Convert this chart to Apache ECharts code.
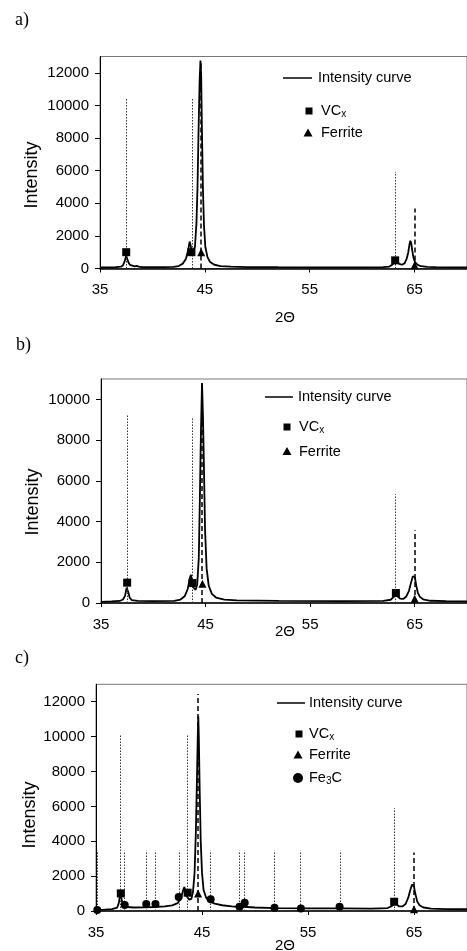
<!DOCTYPE html>
<html><head><meta charset="utf-8">
<script src="https://cdn.jsdelivr.net/npm/echarts@6/dist/echarts.min.js"></script>
<style>html,body{margin:0;padding:0;background:#fff}#c{width:467px;height:951px}</style>
</head><body><div id="c"></div>
<script>
// ---------- DATA ----------
const xTickLabels = [35, 45, 55, 65];
const yTickStep = 2000;

// Panel a
const aCurve = [[35.0,60],[35.5,70],[36.0,70],[36.5,80],[37.0,110],[37.2,200],[37.35,450],[37.5,780],[37.6,700],[37.7,400],[37.85,220],[38.0,150],[38.3,130],[38.5,160],[38.7,120],[39.0,90],[40.0,80],[41.0,80],[42.0,100],[42.5,150],[42.9,300],[43.2,600],[43.4,1100],[43.55,1650],[43.65,1400],[43.75,950],[43.9,850],[44.05,1300],[44.2,2800],[44.3,5000],[44.4,8500],[44.5,11500],[44.58,12750],[44.65,11800],[44.72,8500],[44.82,4800],[44.92,2600],[45.05,1300],[45.25,700],[45.5,400],[45.9,230],[46.5,150],[47.5,110],[49,90],[52,80],[56,70],[60,70],[62,80],[62.6,120],[62.9,250],[63.15,420],[63.35,400],[63.55,280],[63.8,230],[64.05,320],[64.25,600],[64.4,1000],[64.52,1500],[64.6,1700],[64.68,1550],[64.78,1100],[64.9,650],[65.05,380],[65.3,220],[65.6,140],[66.2,100],[67,80],[68.5,70],[70,70]];
const aVCxLines = [[37.47,10400],[43.75,10400],[63.15,5930]];
const aFerriteLines = [[44.65,12750],[65.0,3680]];
const aVCxMarks = [[37.5,1000],[43.72,1000],[63.15,500]];
const aFerriteMarks = [[44.65,1000],[65.0,200]];

// Panel b
const bCurve = [[35.0,60],[36.0,80],[36.8,100],[37.1,170],[37.3,350],[37.45,750],[37.52,820],[37.6,550],[37.75,250],[37.95,140],[38.5,100],[40,90],[42,100],[42.6,170],[43.0,330],[43.3,700],[43.5,1250],[43.6,1380],[43.7,1100],[43.85,750],[44.05,650],[44.2,900],[44.35,2200],[44.45,5000],[44.55,8200],[44.66,10800],[44.75,9200],[44.85,6500],[44.95,3600],[45.1,1700],[45.3,850],[45.6,450],[46,270],[46.8,170],[48,130],[52,100],[58,90],[62,100],[62.7,160],[63.0,300],[63.2,390],[63.4,300],[63.6,220],[63.9,200],[64.2,320],[64.45,600],[64.65,1000],[64.82,1320],[64.92,1400],[65.02,1250],[65.15,850],[65.3,500],[65.5,300],[65.8,180],[66.5,110],[68,90],[70,80]];
const bVCxLines = [[37.49,9280],[43.76,9110],[63.18,5340]];
const bFerriteLines = [[44.68,10700],[65.03,3570]];
const bVCxMarks = [[37.5,1000],[43.75,980],[63.2,490]];
const bFerriteMarks = [[44.7,950],[65.0,210]];

// Panel c
const cCurve = [[35.0,40],[35.3,60],[35.8,80],[36.5,110],[37.0,200],[37.15,450],[37.28,950],[37.38,800],[37.5,420],[37.7,300],[38.0,230],[38.5,200],[39.5,210],[40.5,230],[41.5,260],[42.2,320],[42.7,450],[43.0,700],[43.2,1150],[43.33,1380],[43.45,1150],[43.6,800],[43.8,650],[44.0,700],[44.15,1100],[44.3,2200],[44.42,4500],[44.52,7500],[44.6,10000],[44.65,11150],[44.7,10000],[44.78,7000],[44.88,4000],[45.0,2200],[45.15,1200],[45.4,750],[45.7,550],[46.2,420],[46.9,330],[47.8,260],[48.6,230],[49.2,230],[50,200],[52,170],[55,150],[58,150],[61,140],[62.5,170],[62.9,280],[63.15,420],[63.35,380],[63.6,260],[63.9,260],[64.2,400],[64.45,750],[64.65,1200],[64.82,1520],[64.9,1590],[65.0,1400],[65.12,1000],[65.3,550],[65.55,320],[65.9,200],[66.6,140],[68,110],[70,100]];
const cVCxLines = [[37.3,10150],[43.63,10150],[63.13,5890]];
const cFerriteLines = [[44.62,12440],[65.0,3360]];
const cFe3CLines = [[35.12,3450],[37.71,3450],[39.72,3450],[40.61,3450],[42.83,3450],[45.74,3450],[48.55,3450],[49.02,3450],[51.86,3450],[54.3,3450],[58.02,3450]];
const cVCxMarks = [[37.34,1010],[43.65,1050],[63.13,530]];
const cFerriteMarks = [[44.63,1000],[65.0,100]];
const cFe3CMarks = [[35.12,60],[37.71,340],[39.74,400],[40.61,400],[42.8,800],[45.82,670],[48.54,250],[49.03,480],[51.84,190],[54.33,150],[57.98,250]];

// ---------- CHART ----------
const FONT = '"Liberation Sans", Arial, Helvetica, sans-serif';
const SERIF = '"Liberation Serif", "Times New Roman", serif';

const grids = [
  {left:100, top:56.5, width:371, height:212, ymax:13000},
  {left:101, top:379, width:368, height:224, ymax:11000},
  {left:96, top:684.3, width:374, height:226.7, ymax:13000}
];

function xAxisFor(i){
  return {gridIndex:i, type:'value', min:35, max:70, interval:10,
    axisLine:{show:true, onZero:false, lineStyle:{color:'#000', width:1.5}},
    axisTick:{show:true, length:4, lineStyle:{color:'#000'}},
    axisLabel:{color:'#000', fontSize:15, fontFamily:FONT, margin:14, showMaxLabel:false, formatter:v => String(v)},
    splitLine:{show:false}};
}
function yAxisFor(i){
  return {gridIndex:i, type:'value', min:0, max:grids[i].ymax, interval:yTickStep,
    axisLine:{show:true, lineStyle:{color:'#000', width:1}},
    axisTick:{show:true, length:5, lineStyle:{color:'#000'}},
    axisLabel:{color:'#000', fontSize:15, fontFamily:FONT, margin:11, showMaxLabel:false, formatter:v => String(v)},
    splitLine:{show:false}};
}
function vLines(arr, style){
  return {symbol:['none','none'], silent:true, animation:false, label:{show:false},
    emphasis:{disabled:true}, lineStyle:style,
    data: arr.map(([x,h]) => [{coord:[x,0]},{coord:[x,h]}])};
}
const dotted = {type:[1.5,1.5], color:'#333', width:1};
const dashed = {type:[5,3], color:'#000', width:1.5};

function panelSeries(i, curve, vcxL, ferL, vcxM, ferM, fe3cL, fe3cM){
  const s = [];
  s.push({type:'line', name:'VCx lines', xAxisIndex:i, yAxisIndex:i, data:[], markLine:vLines(vcxL, dotted), z:2});
  if (fe3cL) s.push({type:'line', name:'Fe3C lines', xAxisIndex:i, yAxisIndex:i, data:[], markLine:vLines(fe3cL, dotted), z:2});
  s.push({type:'line', name:'Intensity curve', xAxisIndex:i, yAxisIndex:i, data:curve, symbol:'none',
    lineStyle:{color:'#000', width:1.8}, z:3, animation:false});
  s.push({type:'line', name:'Ferrite lines', xAxisIndex:i, yAxisIndex:i, data:[], markLine:vLines(ferL, dashed), z:4});
  s.push({type:'scatter', name:'VCx', xAxisIndex:i, yAxisIndex:i, data:vcxM, symbol:'rect', symbolSize:8, itemStyle:{color:'#000', opacity:1}, z:5});
  s.push({type:'scatter', name:'Ferrite', xAxisIndex:i, yAxisIndex:i, data:ferM, symbol:'triangle', symbolSize:8, itemStyle:{color:'#000', opacity:1}, z:5});
  if (fe3cM) s.push({type:'scatter', name:'Fe3C', xAxisIndex:i, yAxisIndex:i, data:fe3cM, symbol:'circle', symbolSize:8, itemStyle:{color:'#000', opacity:1}, z:5});
  return s;
}

const series = [].concat(
  panelSeries(0, aCurve, aVCxLines, aFerriteLines, aVCxMarks, aFerriteMarks),
  panelSeries(1, bCurve, bVCxLines, bFerriteLines, bVCxMarks, bFerriteMarks),
  panelSeries(2, cCurve, cVCxLines, cFerriteLines, cVCxMarks, cFerriteMarks, cFe3CLines, cFe3CMarks)
);

// ---------- TEXT / LEGEND (graphic) ----------
const legFont = 14.5;
const rich = {
  n:{fontSize:legFont, fontFamily:FONT, fill:'#000', color:'#000'},
  s:{fontSize:10, fontFamily:FONT, fill:'#000', color:'#000', verticalAlign:'bottom', padding:[6,0,0,0]}
};
function txt(x, y, text, opts){
  return Object.assign({type:'text', x:x, y:y, silent:true,
    style:Object.assign({text:text, fill:'#000', align:'left', verticalAlign:'middle', fontFamily:FONT, fontSize:15}, opts||{})});
}
function legend(lineX1, lineX2, lineY, textX, items){
  const g = [];
  g.push({type:'line', silent:true, shape:{x1:lineX1, y1:lineY, x2:lineX2, y2:lineY}, style:{stroke:'#000', lineWidth:1.5}});
  g.push(txt(textX.curve, lineY, 'Intensity curve', {fontSize:legFont}));
  items.forEach(it => {
    if (it.kind === 'rect') g.push({type:'rect', silent:true, shape:{x:it.cx-3.5, y:it.cy-3.5, width:7, height:7}, style:{fill:'#000'}});
    if (it.kind === 'tri') g.push({type:'polygon', silent:true, shape:{points:[[it.cx, it.cy-4.5],[it.cx+4.5, it.cy+3.5],[it.cx-4.5, it.cy+3.5]]}, style:{fill:'#000'}});
    if (it.kind === 'circ') g.push({type:'circle', silent:true, shape:{cx:it.cx, cy:it.cy, r:5}, style:{fill:'#000'}});
    g.push(txt(textX.items, it.cy, it.text, {rich:rich, fontSize:legFont}));
  });
  return g;
}
const graphics = [].concat(
  [txt(15, 20, 'a)', {fontFamily:SERIF, fontSize:18}),
   txt(16, 345, 'b)', {fontFamily:SERIF, fontSize:18}),
   txt(15, 658, 'c)', {fontFamily:SERIF, fontSize:18}),
   Object.assign(txt(32.5, 175, 'Intensity', {fontSize:18, align:'center'}), {rotation:Math.PI/2}),
   Object.assign(txt(33.5, 502, 'Intensity', {fontSize:18, align:'center'}), {rotation:Math.PI/2}),
   Object.assign(txt(30, 815, 'Intensity', {fontSize:18, align:'center'}), {rotation:Math.PI/2}),
   txt(285, 318, '2Θ', {align:'center', fontSize:15}),
   txt(285, 632, '2Θ', {align:'center', fontSize:15}),
   txt(285, 946, '2Θ', {align:'center', fontSize:15})],
  legend(283, 312, 78, {curve:318, items:321}, [
    {kind:'rect', cx:309, cy:111, text:'{n|VC}{s|x}'},
    {kind:'tri', cx:308, cy:133, text:'{n|Ferrite}'}]),
  legend(265, 293, 397, {curve:298, items:299}, [
    {kind:'rect', cx:287, cy:427, text:'{n|VC}{s|x}'},
    {kind:'tri', cx:287, cy:451.5, text:'{n|Ferrite}'}]),
  legend(277, 305, 703, {curve:309, items:309}, [
    {kind:'rect', cx:299, cy:734, text:'{n|VC}{s|x}'},
    {kind:'tri', cx:298, cy:755, text:'{n|Ferrite}'},
    {kind:'circ', cx:298, cy:778, text:'{n|Fe}{s|3}{n|C}'}])
);

const chart = echarts.init(document.getElementById('c'), null, {renderer:'canvas'});
chart.setOption({
  animation:false,
  backgroundColor:'#fff',
  grid: grids.map(g => ({left:g.left, top:g.top, width:g.width, height:g.height, show:true, borderColor:'#777', borderWidth:1, backgroundColor:'transparent'})),
  xAxis: [0,1,2].map(xAxisFor),
  yAxis: [0,1,2].map(yAxisFor),
  series: series,
  graphic: graphics
});
</script>
</body></html>
